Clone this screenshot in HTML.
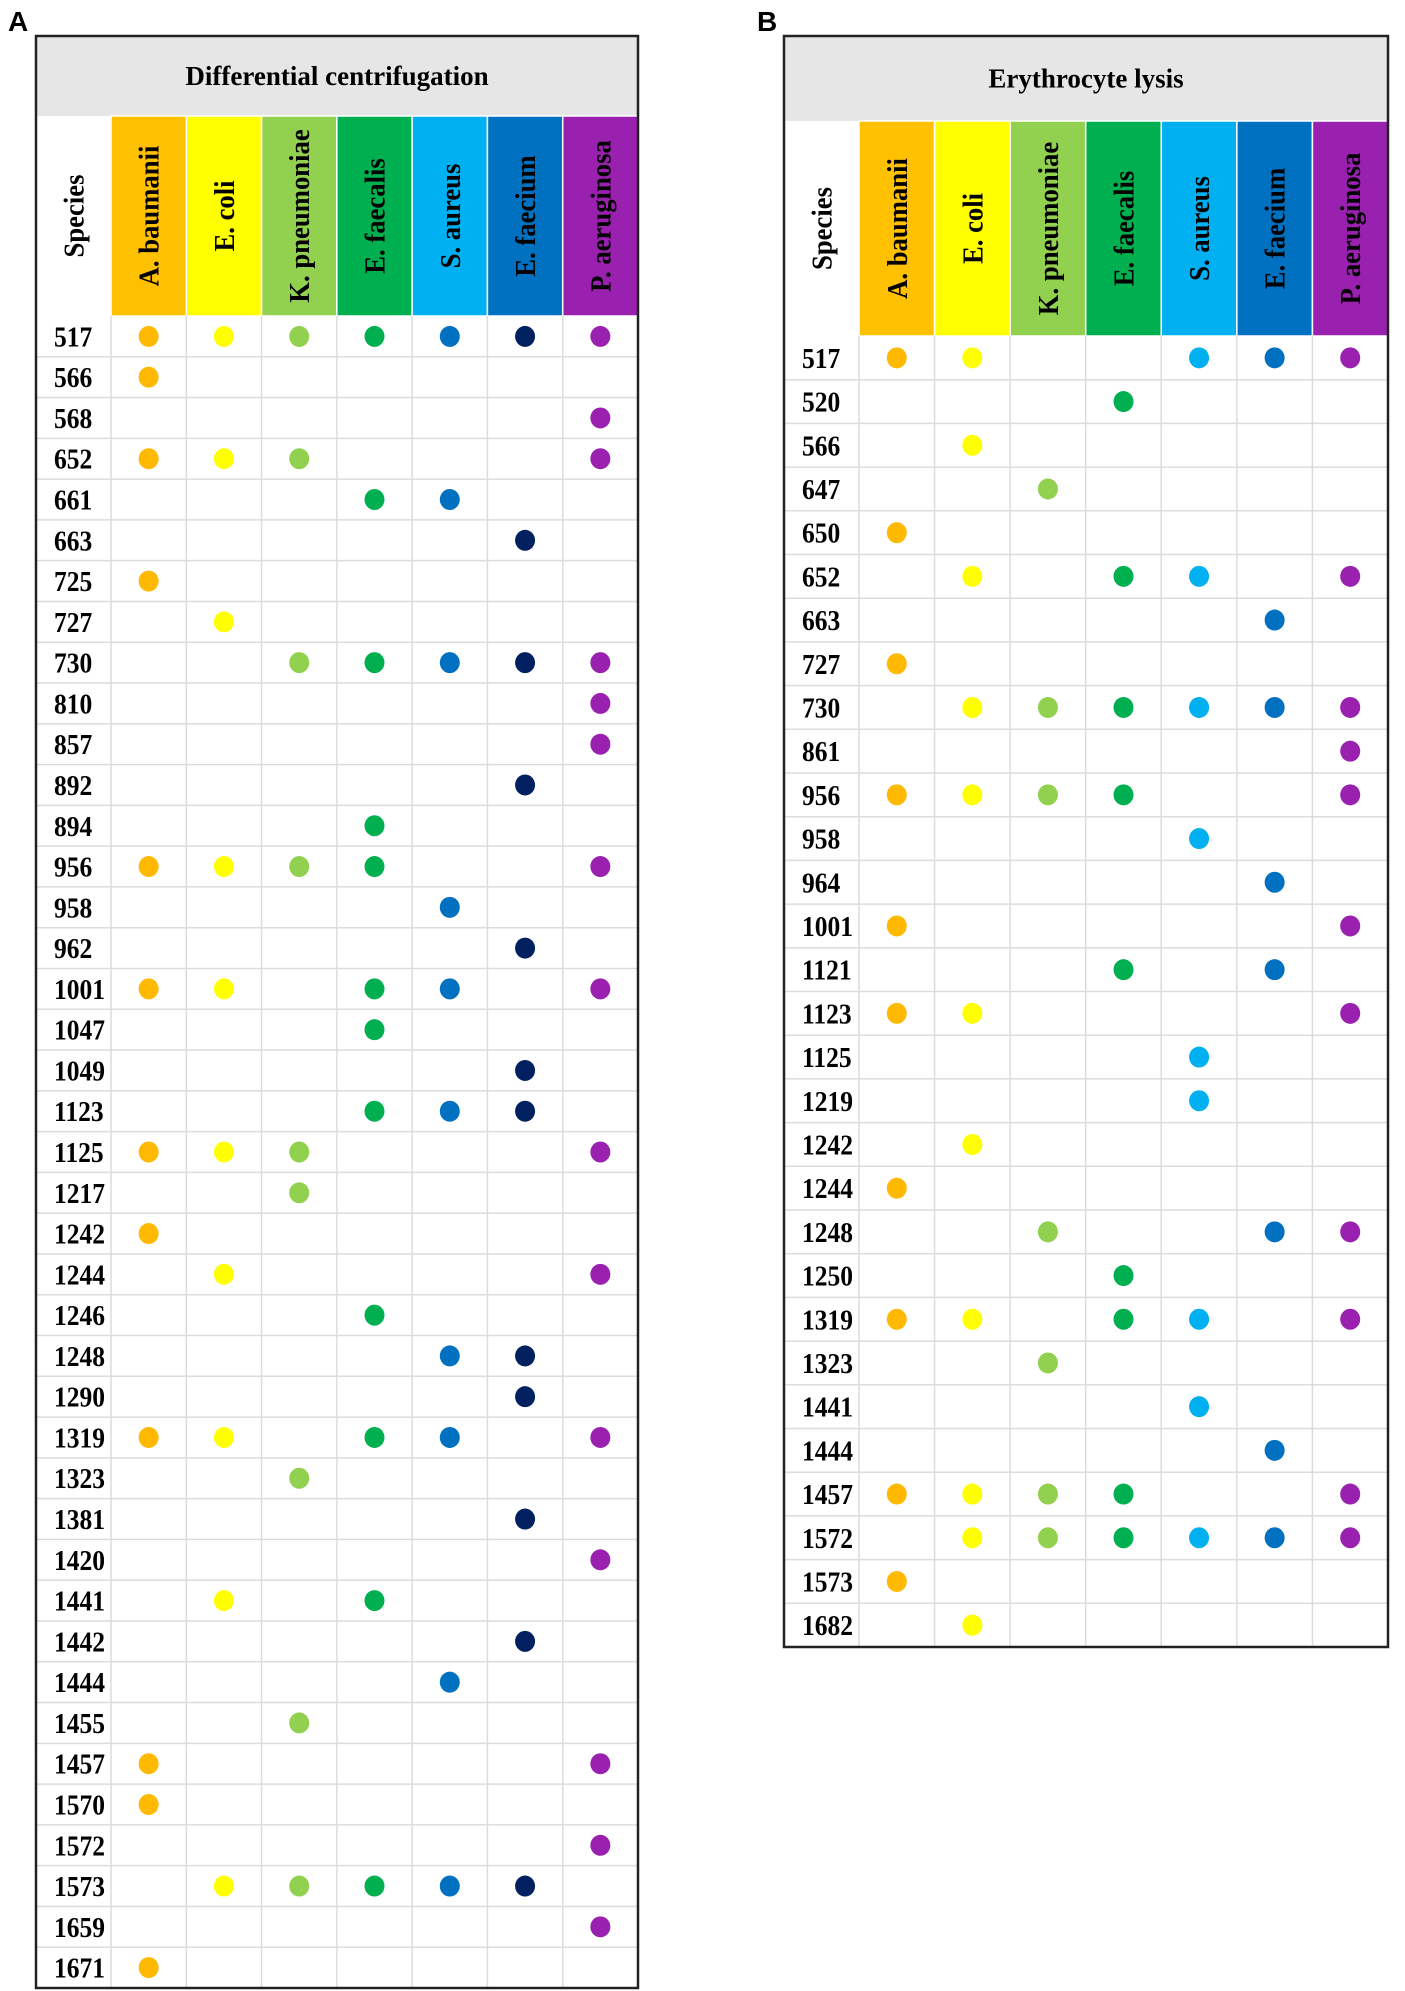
<!DOCTYPE html>
<html><head><meta charset="utf-8"><style>
html,body{margin:0;padding:0;background:#fff;}
svg{display:block;}
</style></head><body>
<svg id="fig" width="1405" height="1991" xmlns="http://www.w3.org/2000/svg">
<text x="8" y="31" font-family="Liberation Sans, sans-serif" font-weight="bold" font-size="28">A</text>
<text x="757" y="31" font-family="Liberation Sans, sans-serif" font-weight="bold" font-size="28">B</text>
</svg>
<script>
const speciesNames = ["A. baumanii","E. coli","K. pneumoniae","E. faecalis","S. aureus","E. faecium","P. aeruginosa"];
const headerColors = ["#FFC000","#FFFF00","#92D050","#00B050","#00B0F0","#0070C0","#9A20AF"];
const dotColorsA = ["#FFB900","#FFFF00","#92D050","#00B050","#0070C0","#002060","#9A20AF"];
const dotColorsB = ["#FFB900","#FFFF00","#92D050","#00B050","#00B0F0","#0070C0","#9A20AF"];
const rowsA = ["517","566","568","652","661","663","725","727","730","810","857","892","894","956","958","962","1001","1047","1049","1123","1125","1217","1242","1244","1246","1248","1290","1319","1323","1381","1420","1441","1442","1444","1455","1457","1570","1572","1573","1659","1671"];
const presentA = ["0123456","0","6","0126","34","5","0","1","23456","6","6","5","3","01236","4","5","01346","3","5","345","0126","2","0","16","3","45","5","01346","2","5","6","13","5","4","2","06","0","6","12345","6","0"];
const rowsB = ["517","520","566","647","650","652","663","727","730","861","956","958","964","1001","1121","1123","1125","1219","1242","1244","1248","1250","1319","1323","1441","1444","1457","1572","1573","1682"];
const presentB = ["01456","3","1","2","0","1346","5","0","123456","6","01236","4","5","06","35","016","4","4","1","0","256","3","01346","2","4","5","01236","123456","0","1"];

const NS="http://www.w3.org/2000/svg";
const svg=document.getElementById('fig');
function mk(tag,attrs,parent){const e=document.createElementNS(NS,tag);for(const k in attrs)e.setAttribute(k,attrs[k]);(parent||svg).appendChild(e);return e;}

function panel(cfg){
  const g=mk('g',{});
  
  
  const {L,R,T,G,H,B,S}=cfg;
  const n=cfg.rows.length;
  const rh=(B-H)/n;
  const cw=(R-S)/7;
  const colX=i=>S+i*cw;
  const rowY=j=>H+j*rh;
  const t=mk('rect',{x:L,y:T,width:R-L,height:G-T,fill:'#E7E6E6'},g);
  
  
  const tt=mk('text',{x:(L+R)/2,y:(T+G)/2+9,'text-anchor':'middle','font-family':'Liberation Serif, serif','font-weight':'bold','font-size':27},g);
  tt.textContent=cfg.title;
  
  
  const sp=mk('text',{transform:`translate(${(L+S)/2+10},${(G+H)/2}) rotate(-90) scale(0.92,1)`,'text-anchor':'middle','font-family':'Liberation Serif, serif','font-weight':'bold','font-size':29},g);
  sp.textContent='Species';
  
  
  for(let i=0;i<7;i++){
    const r=mk('rect',{x:colX(i),y:G,width:cw,height:H-G,fill:headerColors[i],stroke:'#fff','stroke-width':1.5},g);
    
    
    const tx=mk('text',{transform:`translate(${colX(i)+cw/2+10},${(G+H)/2}) rotate(-90) scale(0.92,1)`,'text-anchor':'middle','font-family':'Liberation Serif, serif','font-weight':'bold','font-size':29},g);
    tx.textContent=speciesNames[i];
    
    
  }
  for(let j=1;j<n;j++) mk('line',{x1:L,x2:R,y1:rowY(j),y2:rowY(j),stroke:'#DCDCDC','stroke-width':1.5},g);
  for(let i=0;i<7;i++) mk('line',{x1:colX(i),x2:colX(i),y1:H,y2:B,stroke:'#DCDCDC','stroke-width':1.5},g);
  for(let j=0;j<n;j++){
    const cy=rowY(j)+rh/2;
    const lab=mk('text',{transform:`translate(${cfg.numX},${cy+10}) scale(0.88,1)`,'font-family':'Liberation Serif, serif','font-weight':'bold','font-size':29},g);
    lab.textContent=cfg.rows[j];
    
    
    for(const ch of cfg.present[j]){
      const i=+ch;
      const d=mk('ellipse',{cx:colX(i)+cw/2,cy:cy,rx:10,ry:10.5,fill:cfg.dots[i]},g);
      
      
    }
  }
  mk('rect',{x:L,y:T,width:R-L,height:B-T,fill:'none',stroke:'#222','stroke-width':2.5},g);
}
panel({id:'panel-a',title:'Differential centrifugation',rows:rowsA,present:presentA,dots:dotColorsA,L:36,R:638,T:36,G:116,H:316,B:1988,S:111,numX:54});
panel({id:'panel-b',title:'Erythrocyte lysis',rows:rowsB,present:presentB,dots:dotColorsB,L:784,R:1388,T:36,G:121,H:336,B:1647,S:859,numX:802});
</script>
</body></html>
